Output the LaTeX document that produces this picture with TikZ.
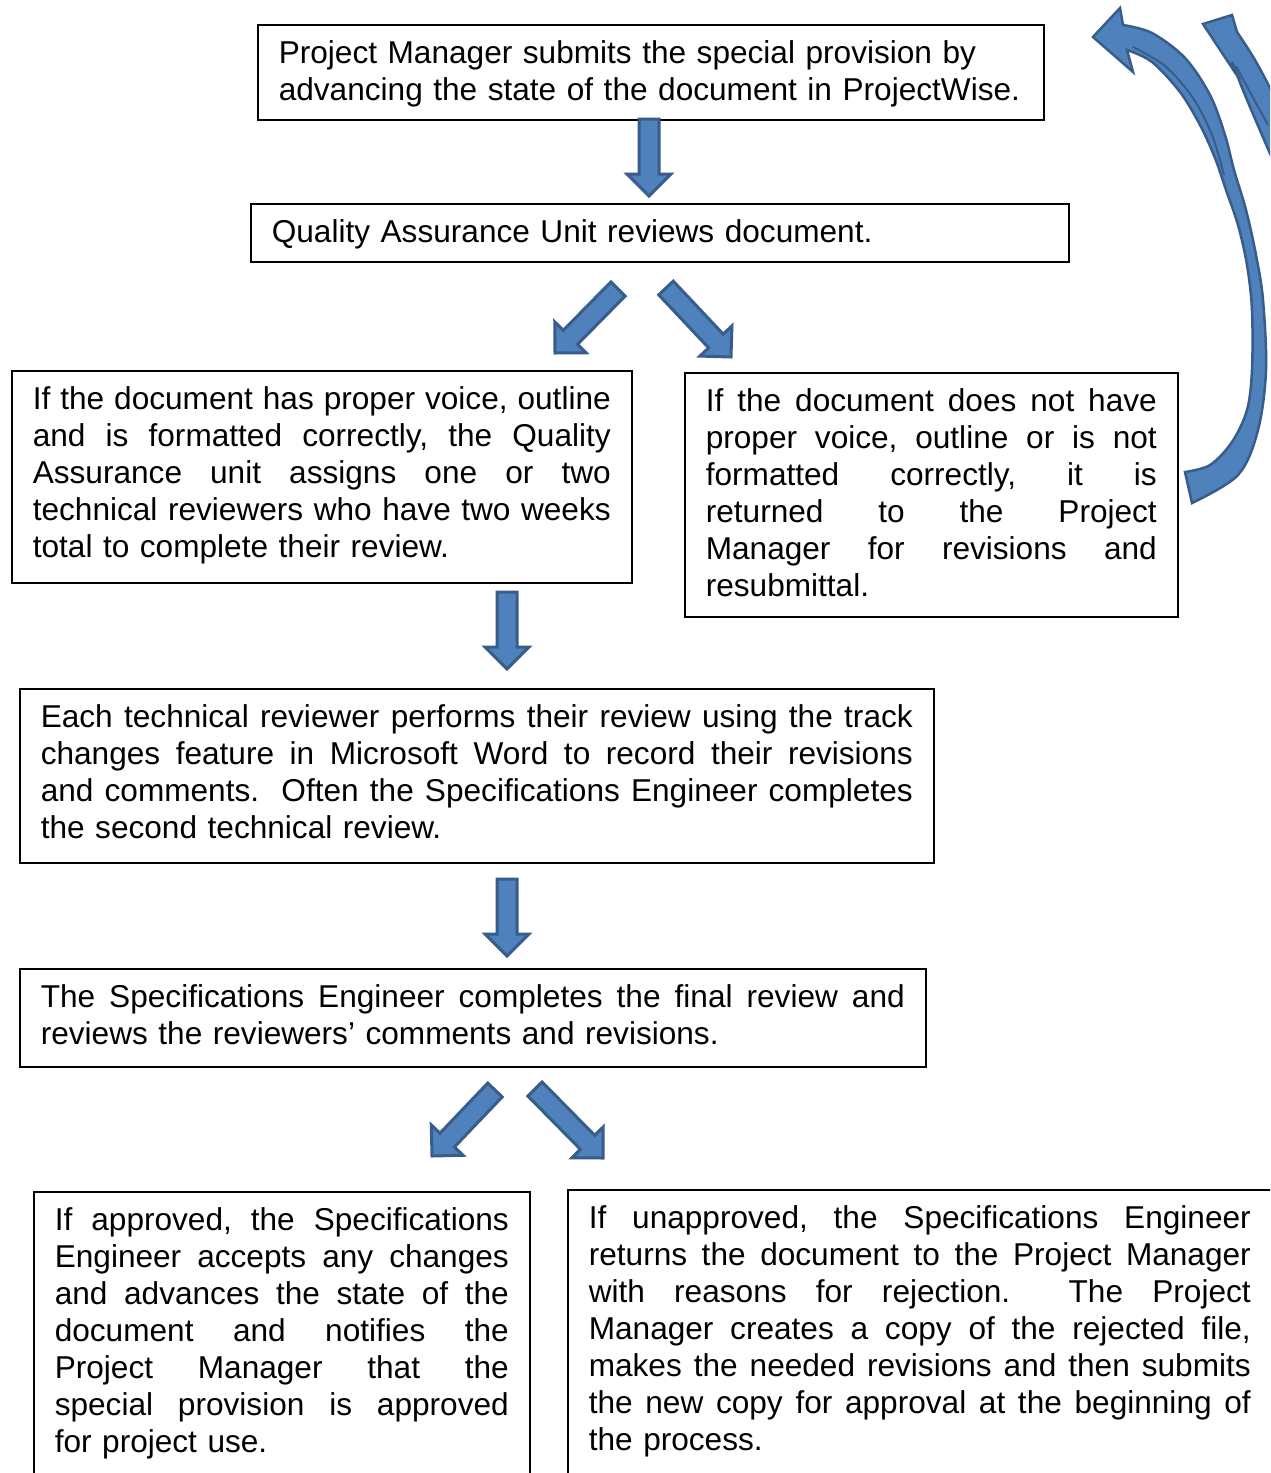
\documentclass[tikz,border=0pt]{standalone}
\usepackage{fontspec}
\setmainfont{Liberation Sans}
\usetikzlibrary{calc}
\definecolor{afill}{HTML}{4F81BD}
\definecolor{aline}{HTML}{385D8A}
\frenchspacing
\newcommand\mytop{\rule{0pt}{29pt}}
\newcommand\mybot[1]{\rule[-#1]{0pt}{#1}}
\newcommand\jlwidth{\hsize}
% justified line
\newcommand\jl[1]{\noindent\hbox to \jlwidth{\spaceskip=\fontdimen2\font plus 1fil\relax #1}\par}
% natural (left aligned) line
\newcommand\nl[1]{\noindent\hbox{#1}\par}
\tikzset{
  box/.style={draw=black, line width=1.6pt, anchor=north west, inner xsep=21pt,
    inner ysep=10pt, text width=#1, font=\fontsize{31.6}{37}\selectfont},
  barrow/.style={fill=afill, draw=aline, line width=3pt, line join=miter},
  carrow/.style={fill=afill, draw=aline, line width=2.5pt, line join=miter},
}
\newcommand\blockarrow[2]{%
  \coordinate (bah) at ($(#2)!22pt!(#1)$);
  \filldraw[barrow] ($(#1)!10pt!90:(#2)$) -- ($(bah)!10pt!90:(#2)$)
    -- ($(bah)!22pt!90:(#2)$) -- (#2) -- ($(bah)!22pt!-90:(#2)$)
    -- ($(bah)!10pt!-90:(#2)$) -- ($(#1)!10pt!-90:(#2)$) -- cycle;}
\begin{document}
\begin{tikzpicture}[x=1pt,y=-1pt]
\clip (0,0) rectangle (1270,1473);
\fill[white] (0,0) rectangle (1270,1473);

% boxes
\node[box=744pt] (pm) at (257,24)
  {\nl{\mytop Project Manager submits the special provision by}%
   \nl{advancing the state of the document in ProjectWise.\mybot{9pt}}};
\node[box=776pt] (qa) at (250,203)
  {\nl{\mytop Quality Assurance Unit reviews document.\mybot{9pt}}};
\node[box=578pt] (ok) at (11,370)
  {\jl{\mytop If the document has proper voice, outline}%
   \jl{and is formatted correctly, the Quality}%
   \jl{Assurance unit assigns one or two}%
   \jl{technical reviewers who have two weeks}%
   \nl{total to complete their review.\mybot{15pt}}};
\node[box=451pt] (nok) at (684,372)
  {\jl{\mytop If the document does not have}%
   \jl{proper voice, outline or is not}%
   \jl{formatted correctly, it is}%
   \jl{returned to the Project}%
   \jl{Manager for revisions and}%
   \nl{resubmittal.\mybot{10pt}}};
\node[box=872pt] (tr) at (19,688)
  {\jl{\mytop Each technical reviewer performs their review using the track}%
   \jl{changes feature in Microsoft Word to record their revisions}%
   \jl{and comments.\ \ Often the Specifications Engineer completes}%
   \nl{the second technical review.\mybot{14pt}}};
\node[box=864pt] (se) at (19,968)
  {\jl{\mytop The Specifications Engineer completes the final review and}%
   \nl{reviews the reviewers’ comments and revisions.\mybot{12pt}}};
\node[box=454pt] (ap) at (33,1191)
  {\jl{\mytop If approved, the Specifications}%
   \jl{Engineer accepts any changes}%
   \jl{and advances the state of the}%
   \jl{document and notifies the}%
   \jl{Project Manager that the}%
   \jl{special provision is approved}%
   \nl{for project use.\mybot{60pt}}};
\node[box=690pt] (un) at (567,1189)
  {\renewcommand\jlwidth{662pt}%
   \jl{\mytop If unapproved, the Specifications Engineer}%
   \jl{returns the document to the Project Manager}%
   \jl{with reasons for rejection.\ \ The Project}%
   \jl{Manager creates a copy of the rejected file,}%
   \jl{makes the needed revisions and then submits}%
   \jl{the new copy for approval at the beginning of}%
   \nl{the process.\mybot{60pt}}};

% block arrows
\coordinate (a1s) at (649,119);  \coordinate (a1t) at (649,196);
\coordinate (a2ls) at (618,289); \coordinate (a2lt) at (555,353);
\coordinate (a2rs) at (666,288); \coordinate (a2rt) at (731,357);
\coordinate (a3s) at (507,592);  \coordinate (a3t) at (507,669);
\coordinate (a4s) at (507,879);  \coordinate (a4t) at (507,956);
\coordinate (a5ls) at (495,1090); \coordinate (a5lt) at (432,1156);
\coordinate (a5rs) at (535,1089); \coordinate (a5rt) at (603,1158);
\blockarrow{a1s}{a1t}
\blockarrow{a2ls}{a2lt}
\blockarrow{a2rs}{a2rt}
\blockarrow{a3s}{a3t}
\blockarrow{a4s}{a4t}
\blockarrow{a5ls}{a5lt}
\blockarrow{a5rs}{a5rt}

% curved return arrow
\filldraw[carrow]
  plot[smooth, tension=0.55] coordinates {(1192,503) (1238,475) (1258,430) (1266,370) (1263,300) (1256,255) (1246,210) (1234,170) (1225,135) (1210,95) (1185,58) (1152,33) (1123,25)}
  -- (1120,8) -- (1093,37) -- (1133,72) -- (1127,50)
  -- plot[smooth, tension=0.55] coordinates {(1127,50) (1152,62) (1180,92) (1200,125) (1215,158) (1226,190) (1238,225) (1247,265) (1252,310) (1252,370) (1247,410) (1232,442) (1210,465) (1185,472)}
  -- cycle;
\draw[aline, line width=2pt] plot[smooth, tension=0.55] coordinates {(1133,47) (1165,66) (1193,98) (1212,135) (1224,175)};

% second curved arrow (partly outside)
\filldraw[carrow] (1237,32) -- (1232,15) -- (1203,24) -- (1240,80) -- (1232,62)
  -- plot[smooth, tension=0.6] coordinates {(1232,62) (1245,95) (1262,135) (1275,165)}
  -- (1290,165) -- (1290,120)
  -- plot[smooth, tension=0.6] coordinates {(1280,110) (1272,92) (1255,60) (1237,32)}
  -- cycle;
\draw[aline, line width=2pt] plot[smooth, tension=0.6] coordinates {(1236,66) (1250,92) (1268,125)};
\end{tikzpicture}
\end{document}
